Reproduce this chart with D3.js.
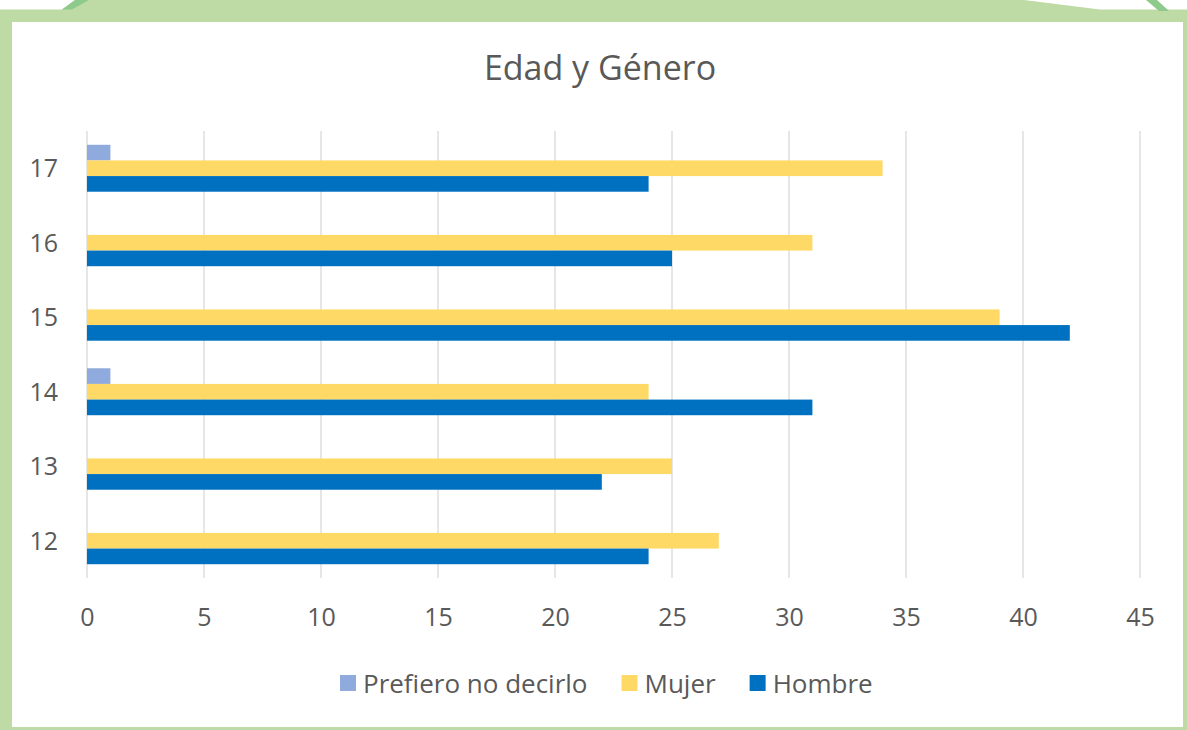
<!DOCTYPE html>
<html lang="es">
<head>
    <meta charset="UTF-8">
    <title>Edad y Género</title>
    <script src="https://d3js.org/d3.v7.min.js"></script>
    <style>
        body {margin: 0; background: #bfdba5;}
        text {
            font-family: "Open Sans", "Noto Sans", sans-serif;
            fill: #595959;
        }
    </style>
</head>
<body>
<script>
    const width = 1187;
    const height = 730;

    // data
    const ages   = ["17", "16", "15", "14", "13", "12"];
    const series = ["Prefiero no decirlo", "Mujer", "Hombre"];
    const colors = ["#8faadc", "#ffd966", "#0070c0"];
    const prefiero = [1, 0, 0, 1, 0, 0];
    const mujer    = [34, 31, 39, 24, 25, 27];
    const hombre   = [24, 25, 42, 31, 22, 24];
    const xTicks   = [0, 5, 10, 15, 20, 25, 30, 35, 40, 45];

    const values = [prefiero, mujer, hombre];

    const svg = d3.select("body").append("svg")
            .attr("width", width).attr("height", height)
            .style("display", "block");

    // green frame + white card
    svg.append("rect").attr("width", width).attr("height", height).attr("fill", "#bfdba5");
    svg.append("rect").attr("x", 12).attr("y", 22).attr("width", 1171).attr("height", 705).attr("fill", "#fff");
    svg.append("polygon").attr("points", "0,0 75,0 62,9.5 0,9.5").attr("fill", "#fff");
    svg.append("polygon").attr("points", "75,0 89,0 72,9.5 62,9.5").attr("fill", "#8dca8b");
    svg.append("polygon").attr("points", "1024,0 1187,0 1187,9.5 1100,9.5").attr("fill", "#fff");
    svg.append("polygon").attr("points", "1146,0 1157,0 1169,11 1159,11").attr("fill", "#8dca8b");

    const x = d3.scaleLinear().domain([0, 45]).range([87, 1140]);

    const y = d3.scaleBand().domain(ages).range([131, 578])
            .paddingInner(0.37).paddingOuter(0.185);

    const ySub = d3.scaleBand().domain(series).range([0, y.bandwidth()]);

    // gridlines
    svg.append("g").selectAll("line")
            .data(xTicks)
            .join("line")
            .attr("x1", d => x(d)).attr("x2", d => x(d))
            .attr("y1", 131).attr("y2", 578)
            .attr("stroke", "#d9d9d9")
            .attr("stroke-width", 1.3);

    // bars
    series.forEach((s, si) => {
        svg.append("g").selectAll("rect")
                .data(ages.map((a, i) => ({age: a, v: values[si][i]})))
                .join("rect")
                .attr("x", x(0))
                .attr("y", d => y(d.age) + ySub(s))
                .attr("width", d => x(d.v) - x(0))
                .attr("height", ySub.bandwidth())
                .attr("fill", colors[si]);
    });

    // x axis labels
    const xAxis = svg.append("g")
            .attr("transform", "translate(0,626)")
            .call(d3.axisBottom(x).tickValues(xTicks).tickSize(0).tickPadding(0));
    xAxis.select(".domain").remove();
    xAxis.selectAll("text")
            .attr("dy", 0).attr("y", 0)
            .style("font-size", "25px").style("fill", "#595959")
            .style("font-family", "'Open Sans', sans-serif");

    // y axis labels
    const yAxis = svg.append("g")
            .attr("transform", "translate(58,0)")
            .call(d3.axisLeft(y).tickSize(0).tickPadding(0));
    yAxis.select(".domain").remove();
    yAxis.selectAll("text")
            .attr("dy", "0.36em")
            .style("font-size", "25px").style("fill", "#595959")
            .style("font-family", "'Open Sans', sans-serif");

    // title
    svg.append("text")
            .attr("x", 600).attr("y", 80)
            .attr("text-anchor", "middle")
            .style("font-size", "34px")
            .text("Edad y Género");

    // legend
    const legend = svg.append("g");
    let lx = 340;
    series.forEach((s, i) => {
        legend.append("rect")
                .attr("x", lx).attr("y", 675)
                .attr("width", 16).attr("height", 16)
                .attr("fill", colors[i]);
        const t = legend.append("text")
                .attr("x", lx + 23).attr("y", 693)
                .style("font-size", "26px")
                .text(s);
        lx += 23 + t.node().getComputedTextLength() + 34;
    });
</script>
</body>
</html>
